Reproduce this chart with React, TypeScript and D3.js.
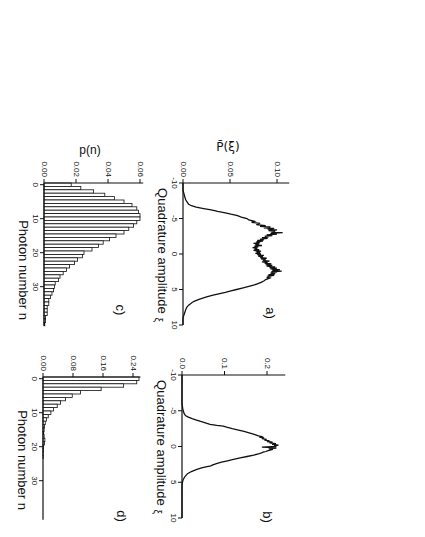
import React from "react";
import * as d3 from "d3";

const W = 425;
const H = 537;
const FONT = "'Liberation Sans', Arial, Helvetica, sans-serif";

// a) quadrature amplitude distribution [xi, P]
const traceA: [number, number][] = [
  [-10, 0], [-9, 0], [-8.5, 0.001], [-8, 0.002], [-7.6, 0.003], [-7.2, 0.005], [-7, 0.006],
  [-6.8, 0.009], [-6.6, 0.014], [-6.4, 0.022], [-6.2, 0.03], [-6, 0.037], [-5.8, 0.045],
  [-5.6, 0.051], [-5.4, 0.058], [-5.2, 0.062], [-5, 0.068], [-4.8, 0.07], [-4.6, 0.076],
  [-4.45, 0.073], [-4.3, 0.082], [-4.15, 0.078], [-4, 0.088], [-3.9, 0.082], [-3.8, 0.093],
  [-3.7, 0.086], [-3.6, 0.097], [-3.5, 0.09], [-3.4, 0.1], [-3.3, 0.091], [-3.2, 0.098],
  [-3.1, 0.094], [-3, 0.106], [-2.9, 0.093], [-2.8, 0.1], [-2.7, 0.089], [-2.6, 0.095],
  [-2.5, 0.087], [-2.4, 0.091], [-2.3, 0.084], [-2.2, 0.09], [-2.1, 0.082], [-2, 0.086],
  [-1.9, 0.079], [-1.8, 0.085], [-1.7, 0.078], [-1.6, 0.082], [-1.5, 0.075], [-1.4, 0.081],
  [-1.3, 0.077], [-1.2, 0.084], [-1.1, 0.076], [-1, 0.08], [-0.9, 0.074], [-0.8, 0.079],
  [-0.7, 0.076], [-0.6, 0.081], [-0.5, 0.075], [-0.4, 0.083], [-0.3, 0.078], [-0.2, 0.082],
  [-0.1, 0.077], [0, 0.083], [0.1, 0.079], [0.2, 0.086], [0.3, 0.08], [0.4, 0.085],
  [0.5, 0.082], [0.6, 0.089], [0.7, 0.083], [0.8, 0.088], [0.9, 0.085], [1, 0.092],
  [1.1, 0.084], [1.2, 0.09], [1.3, 0.087], [1.4, 0.094], [1.5, 0.088], [1.6, 0.095],
  [1.7, 0.089], [1.8, 0.098], [1.9, 0.092], [2, 0.1], [2.1, 0.093], [2.2, 0.103],
  [2.3, 0.095], [2.4, 0.105], [2.5, 0.094], [2.6, 0.1], [2.7, 0.093], [2.8, 0.098],
  [2.9, 0.091], [3, 0.097], [3.1, 0.09], [3.2, 0.094], [3.3, 0.089], [3.4, 0.092],
  [3.6, 0.088], [3.8, 0.086], [4, 0.083], [4.2, 0.079], [4.4, 0.075], [4.6, 0.069],
  [4.8, 0.063], [5, 0.057], [5.2, 0.051], [5.4, 0.045], [5.6, 0.038], [5.8, 0.032],
  [6, 0.026], [6.2, 0.021], [6.4, 0.017], [6.6, 0.013], [6.8, 0.01], [7, 0.008],
  [7.2, 0.006], [7.5, 0.004], [7.8, 0.003], [8.2, 0.002], [8.6, 0.001], [9, 0], [10, 0],
];

// b) quadrature amplitude distribution [xi, P]
const traceB: [number, number][] = [
  [-10, 0], [-6, 0], [-5.6, 0.001], [-5.2, 0.002], [-4.8, 0.004], [-4.5, 0.006], [-4.3, 0.009],
  [-4.1, 0.015], [-3.9, 0.024], [-3.7, 0.034], [-3.5, 0.044], [-3.3, 0.055], [-3.1, 0.066],
  [-2.95, 0.082], [-2.85, 0.097], [-2.7, 0.105], [-2.5, 0.118], [-2.3, 0.133], [-2.1, 0.146],
  [-1.9, 0.158], [-1.7, 0.17], [-1.5, 0.18], [-1.4, 0.187], [-1.3, 0.182], [-1.2, 0.193],
  [-1.1, 0.188], [-1, 0.199], [-0.9, 0.194], [-0.8, 0.206], [-0.7, 0.2], [-0.6, 0.213],
  [-0.5, 0.206], [-0.4, 0.221], [-0.3, 0.212], [-0.2, 0.227], [-0.1, 0.217], [0, 0.222],
  [0.08, 0.188], [0.15, 0.216], [0.22, 0.222], [0.3, 0.204], [0.4, 0.214], [0.5, 0.207],
  [0.6, 0.201], [0.7, 0.197], [0.8, 0.191], [0.9, 0.187], [1, 0.182], [1.2, 0.169],
  [1.4, 0.153], [1.6, 0.137], [1.8, 0.121], [2, 0.107], [2.2, 0.093], [2.4, 0.081],
  [2.6, 0.071], [2.7, 0.068], [2.8, 0.059], [3, 0.046], [3.2, 0.035], [3.5, 0.022],
  [3.8, 0.013], [4.2, 0.007], [4.6, 0.003], [5, 0.001], [5.5, 0], [10, 0],
];

// c) photon number distribution p(n), n = 0..41
const histC = [
  0.017, 0.023, 0.031, 0.038, 0.044, 0.05, 0.055, 0.058, 0.059, 0.06, 0.06, 0.058, 0.056,
  0.053, 0.05, 0.045, 0.041, 0.037, 0.034, 0.03, 0.025, 0.024, 0.021, 0.019, 0.016, 0.014,
  0.012, 0.01, 0.009, 0.007, 0.0065, 0.006, 0.005, 0.004, 0.003, 0.003, 0.002, 0.002, 0.002,
  0.001, 0.001, 0.0005,
];

// d) photon number distribution p(n), n = 0..24
const histD = [
  0.256, 0.25, 0.215, 0.155, 0.1, 0.078, 0.06, 0.047, 0.038, 0.028, 0.021, 0.014, 0.009,
  0.006, 0.004, 0.003, 0.002, 0.003, 0.005, 0.004, 0.001, 0.001, 0.0005, 0.0005, 0,
];

const xiTicks = [-10, -5, 0, 5, 10];
const nTicks = [0, 10, 20, 30];
const aTicks = [0, 0.05, 0.1];
const bTicks = [0, 0.1, 0.2];
const cTicks = [0, 0.02, 0.04, 0.06];
const dTicks = [0, 0.08, 0.16, 0.24];

const vtext = (x: number, y: number, s: React.ReactNode, size: number, anchor = "middle", key?: any) => (
  <text
    key={key}
    transform={`translate(${x},${y}) rotate(90)`}
    fontSize={size}
    textAnchor={anchor}
    dominantBaseline="central"
  >
    {s}
  </text>
);

type Scale = d3.ScaleLinear<number, number>;

function frame(vx: Scale, ny: Scale, vMax: number, vTicks: number[], vFmt: (d: number) => string,
  nTickVals: number[], yTop: number, yBottom: number, title: React.ReactNode, titleY: number) {
  const x0 = vx(0);
  return (
    <g>
      <line x1={x0} x2={x0} y1={yTop} y2={yBottom} stroke="#111" strokeWidth={1.2} />
      <line x1={x0} x2={vx(vMax)} y1={yTop} y2={yTop} stroke="#111" strokeWidth={1.2} />
      {nTickVals.map((t) => (
        <g key={"n" + t}>
          <line x1={x0 - 4} x2={x0} y1={ny(t)} y2={ny(t)} stroke="#111" strokeWidth={1} />
          {vtext(x0 - 9, ny(t), String(t), 8)}
        </g>
      ))}
      {vTicks.map((t) => (
        <g key={"v" + t}>
          <line x1={vx(t)} x2={vx(t)} y1={yTop - 4} y2={yTop} stroke="#111" strokeWidth={1} />
          {vtext(vx(t), yTop - 6, vFmt(t), 8, "end")}
        </g>
      ))}
      {vtext(x0 - 21, titleY, title, 13)}
    </g>
  );
}

export default function App() {
  const aY = d3.scaleLinear().domain([-10, 10]).range([183, 325]);
  const aX = d3.scaleLinear().domain([0, 0.1]).range([183, 277]);
  const bY = d3.scaleLinear().domain([-10, 10]).range([375, 518]);
  const bX = d3.scaleLinear().domain([0, 0.2]).range([182, 267]);
  const cY = d3.scaleLinear().domain([-0.5, 41.5]).range([183, 325.8]);
  const cX = d3.scaleLinear().domain([0, 0.06]).range([44, 140]);
  const dY = d3.scaleLinear().domain([-0.5, 41.5]).range([377, 519.8]);
  const dX = d3.scaleLinear().domain([0, 0.24]).range([43, 133]);

  const lineA = d3.line<[number, number]>().x((d) => aX(d[1])).y((d) => aY(d[0]));
  const lineB = d3.line<[number, number]>().x((d) => bX(d[1])).y((d) => bY(d[0]));

  const quadTitle = (
    <>
      Quadrature amplitude <tspan fontSize={10} dy="0.3em">ξ</tspan>
    </>
  );

  const bars = (vals: number[], x: Scale, y: Scale) =>
    vals.map((v, n) => (
      <rect
        key={n}
        x={x(0)}
        y={y(n - 0.5)}
        width={Math.max(0, x(v) - x(0))}
        height={y(n + 0.5) - y(n - 0.5)}
        fill="#fff"
        stroke="#111"
        strokeWidth={0.8}
      />
    ));

  return (
    <svg width={W} height={H} style={{ position: "absolute", left: 0, top: 0, background: "#fff" }}
      fontFamily={FONT} fill="#111">
      {/* a) */}
      {frame(aX, aY, 0.113, aTicks, d3.format(".2f"), xiTicks, aY(-10), aY(10), quadTitle, 255)}
      <path d={lineA(traceA) || ""} fill="none" stroke="#111" strokeWidth={1.3} />
      <text x={228} y={151} fontSize={12} textAnchor="middle" fontFamily="'DejaVu Sans', sans-serif">
        {"P\u0304(ξ)"}
      </text>
      {vtext(270, 313, "a)", 13)}

      {/* b) */}
      {frame(bX, bY, 0.243, bTicks, d3.format(".1f"), xiTicks, bY(-10), bY(10), quadTitle, 447)}
      <path d={lineB(traceB) || ""} fill="none" stroke="#111" strokeWidth={1.3} />
      {vtext(267, 517, "b)", 13)}

      {/* c) */}
      {bars(histC, cX, cY)}
      {frame(cX, cY, 0.062, cTicks, d3.format(".2f"), nTicks, cY(-0.5), cY(41.5), "Photon number n", 270)}
      <text x={90} y={154} fontSize={12} textAnchor="middle">p(n)</text>
      {vtext(120, 310, "c)", 13)}

      {/* d) */}
      {bars(histD, dX, dY)}
      {frame(dX, dY, 0.26, dTicks, d3.format(".2f"), nTicks, dY(-0.5), dY(41.5), "Photon number n", 460)}
      {vtext(121, 516, "d)", 13)}
    </svg>
  );
}
